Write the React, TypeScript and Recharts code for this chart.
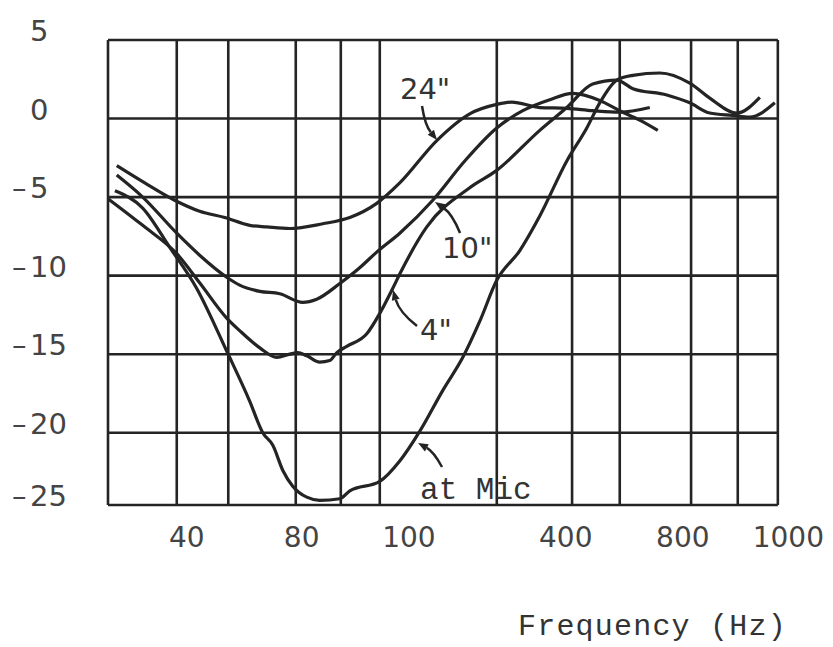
import { LineChart, Line, XAxis, YAxis, ReferenceLine, ReferenceDot } from 'recharts'

// values: frequency in Hz, level in dB
const FREQ_24 = [28.2, 33.2, 39.5, 45.7, 52.9, 61.2, 67.6, 77.3, 93.6, 109.6, 128.2, 146.6, 181.9, 220.4, 257.9, 281.6, 331.4, 387.9, 451, 528, 629]
const DB_24 = [-3.0, -4.1, -5.2, -5.9, -6.3, -6.8, -6.9, -7.0, -6.7, -6.3, -5.4, -4.1, -1.4, 0.3, 0.9, 1.05, 0.7, 0.65, 0.5, 0.4, 0.7]

const FREQ_10 = [28.2, 32.8, 40, 45.7, 53.5, 57.7, 64.9, 72.9, 83.3, 90.4, 103.4, 116.1, 128.2, 146.6, 177.7, 214.1, 257.9, 300.2, 351.3, 401.6, 470, 528, 593, 659]
const DB_10 = [-3.6, -5.0, -7.3, -8.7, -10.1, -10.6, -11.0, -11.15, -11.7, -11.5, -10.5, -9.5, -8.5, -7.3, -5.2, -2.7, -0.6, 0.5, 1.2, 1.6, 1.15, 0.5, -0.1, -0.75]

const FREQ_4 = [26.8, 32.8, 40, 45.7, 53.5, 57.7, 64.9, 71.6, 77.3, 80.9, 85.3, 92.0, 97.5, 101.6, 107.7, 121, 130.5, 140.8, 146.6, 171.6, 220.4, 257.9, 331.4, 387.9, 451, 519, 570, 694.5, 794, 892, 1020, 1126, 1303]
const DB_4 = [-5.1, -6.8, -8.6, -10.45, -12.7, -13.5, -14.6, -15.2, -15.0, -14.9, -15.1, -15.5, -15.4, -14.9, -14.5, -13.7, -12.4, -10.8, -9.9, -6.9, -4.4, -3.3, -0.75, 0.7, 2.2, 2.45, 1.9, 1.5, 1.0, 0.35, 0.2, 0.1, 1.0]

const FREQ_MIC = [27.9, 32.8, 38.4, 44.9, 53.5, 61.2, 66.0, 70.0, 74.2, 78.6, 85.3, 92.0, 103.4, 109.6, 130.5, 146.6, 164.8, 188.4, 211.7, 233.7, 257.9, 295, 331.4, 387.9, 435.8, 470, 519, 570, 667, 794, 892, 1044, 1194]
const DB_MIC = [-4.6, -5.7, -8.2, -10.8, -14.8, -18.0, -20.0, -20.8, -22.4, -23.4, -24.1, -24.3, -24.2, -23.7, -23.1, -21.8, -19.9, -17.3, -15.2, -12.9, -10.3, -8.4, -6.2, -2.7, -0.6, 1.0, 2.45, 2.75, 2.9, 2.25, 1.3, 0.35, 1.35]

// axis / grid
const F_MIN = 26.8
const F_FRAME = 1326
const F_MAX = 1500
const GRID_F = [40, 54, 80, 104, 130.5, 258, 400, 528, 800, 1050]
const GRID_DB = [5, 0, -5, -10, -15, -20, -24.6]
const X_TICKS = [42.4, 82.8, 154.6, 385.6, 762.5, 1410]
const X_TICK_LABELS = ['40', '80', '100', '400', '800', '1000']

// curve labels and their arrows
const NOTES = [
  { text: '24"', f: 146.8, db: 1.88, mono: false },
  { text: '10"', f: 187.5, db: -8.24, mono: false },
  { text: '4"', f: 165.0, db: -13.46, mono: false },
  { text: 'at Mic', f: 165.0, db: -23.52, mono: true },
]
const ARROWS = [
  { from: [166.9, 0.8], to: [182.2, -1.37], bend: 5 },
  { from: [208.3, -7.29], to: [180.0, -5.31], bend: 6 },
  { from: [162.1, -13.21], to: [141.0, -10.92], bend: -7 },
  { from: [187.5, -22.18], to: [163.1, -20.66], bend: 5 },
]

const toPoints = (fs: number[], dbs: number[]) => fs.map((f, i) => ({ f, db: dbs[i] }))
const SERIES = [
  { name: '24"', data: toPoints(FREQ_24, DB_24) },
  { name: '10"', data: toPoints(FREQ_10, DB_10) },
  { name: '4"', data: toPoints(FREQ_4, DB_4) },
  { name: 'at Mic', data: toPoints(FREQ_MIC, DB_MIC) },
]

const SANS = '"DejaVu Sans", sans-serif'
const MONO = '"Liberation Mono", "DejaVu Sans Mono", monospace'
const INK = '#242424'

const YTick = ({ x, y, payload }: any) => {
  const v = Math.round(payload.value / 5) * 5
  return (
    <g>
      {v < 0 && <text x={x - 88} y={y + 1} fontSize={29} fill="#444" fontFamily={SANS}>–</text>}
      <text x={x - 70} y={y + 1} fontSize={29} fill="#444" fontFamily={SANS}>{Math.abs(v)}</text>
    </g>
  )
}

const arrowShape = (bend: number) => (p: any) => {
  const { x1, y1, x2, y2 } = p
  const dx = x2 - x1, dy = y2 - y1
  const len = Math.hypot(dx, dy) || 1
  const cx = (x1 + x2) / 2 - (dy / len) * bend
  const cy = (y1 + y2) / 2 + (dx / len) * bend
  const ax = x2 - cx, ay = y2 - cy
  const al = Math.hypot(ax, ay) || 1
  const ux = ax / al, uy = ay / al
  const bx = x2 - ux * 10, by = y2 - uy * 10
  return (
    <g>
      <path d={`M${x1},${y1} Q${cx},${cy} ${bx},${by}`} fill="none" stroke={INK} strokeWidth={2.5} />
      <path d={`M${x2},${y2} L${bx - uy * 4},${by + ux * 4} L${bx + uy * 4},${by - ux * 4} Z`} fill={INK} />
    </g>
  )
}

export default function App() {
  return (
    <div style={{ position: 'relative', width: 825, height: 639 }}>
      <LineChart width={825} height={639} margin={{ top: 32, right: 34, bottom: 92, left: 0 }}>
        <XAxis
          type="number"
          dataKey="f"
          scale="log"
          domain={[F_MIN, F_MAX]}
          allowDataOverflow
          ticks={X_TICKS}
          tickFormatter={(v: number) => X_TICK_LABELS[X_TICKS.indexOf(v)] ?? ''}
          axisLine={false}
          tickLine={false}
          tickMargin={16}
          height={50}
          interval={0}
          tick={{ fontSize: 28, fill: '#444', fontFamily: SANS }}
        />
        <YAxis
          type="number"
          domain={[-24.6, 5]}
          allowDataOverflow
          ticks={GRID_DB}
          axisLine={false}
          tickLine={false}
          width={100}
          interval={0}
          tick={<YTick />}
        />
        {GRID_DB.map(v => (
          <ReferenceLine key={`h${v}`} segment={[{ x: F_MIN, y: v }, { x: F_FRAME, y: v }]} stroke={INK} strokeWidth={2.6} />
        ))}
        {[F_MIN, ...GRID_F, F_FRAME].map(f => (
          <ReferenceLine key={`v${f}`} x={f} stroke={INK} strokeWidth={2.6} />
        ))}
        {SERIES.map(s => (
          <Line
            key={s.name}
            data={s.data}
            dataKey="db"
            name={s.name}
            type="monotone"
            stroke={INK}
            strokeWidth={3.2}
            dot={false}
            isAnimationActive={false}
          />
        ))}
        {ARROWS.map((a, i) => (
          <ReferenceLine
            key={`a${i}`}
            segment={[{ x: a.from[0], y: a.from[1] }, { x: a.to[0], y: a.to[1] }]}
            shape={arrowShape(a.bend)}
          />
        ))}
        {NOTES.map(n => (
          <ReferenceDot
            key={n.text}
            x={n.f}
            y={n.db}
            r={0}
            fill="none"
            stroke="none"
            label={{
              value: n.text,
              position: 'right',
              offset: 0,
              fontSize: n.mono ? 31 : 29,
              fill: '#333',
              fontFamily: n.mono ? MONO : SANS,
            }}
          />
        ))}
      </LineChart>
      <div
        style={{
          position: 'absolute',
          left: 510,
          top: 604,
          fontFamily: MONO,
          fontSize: 30,
          letterSpacing: 1.2,
          lineHeight: 1,
          color: '#333',
          whiteSpace: 'nowrap',
        }}
      >
        Frequency (Hz)
      </div>
    </div>
  )
}
